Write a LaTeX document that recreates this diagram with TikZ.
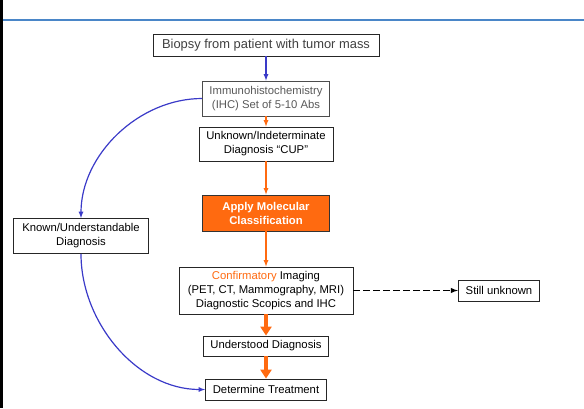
\documentclass[tikz,border=0pt]{standalone}
\usepackage{fontspec}
\setmainfont{Liberation Sans}
\usetikzlibrary{arrows.meta}

\definecolor{orangeM}{HTML}{FF6A10}
\definecolor{blauM}{HTML}{3A3AC8}
\definecolor{linieM}{HTML}{4A86C8}

\begin{document}
\begin{tikzpicture}[%
    x=1pt, y=-1pt,
    font=\fontsize{11.3}{14}\selectfont,
    >=latex % Voreinstellung für Pfeilspitzen
    ]
        \useasboundingbox (0,0) rectangle (584,408);

        \tikzset{
            Kasten/.style={draw=black!85, line width=0.8pt, fill=white, align=center, inner sep=0pt}, % für Kästen
            BPfeil/.style={blauM, line width=1.2pt, ->}, % blaue Pfeile
            OPfeil/.style={orangeM, line width=1.2pt, ->}, % dünne orange Pfeile
            DPfeil/.style={orangeM, line width=3.8pt, -{Triangle[width=11pt,length=9pt]}} % dicke Pfeile
        }

        % Rahmen
        \draw[line width=2.6pt] (1.3,0) -- (1.3,408);
        \draw[linieM, line width=1.4pt] (2.6,20) -- (584,20);

        % Kästen
        \node[Kasten, minimum width=226pt, minimum height=22pt, text=black!75,
              font=\fontsize{12.9}{14}\selectfont] (bio) at (266,45)
              {Biopsy from patient with tumor mass};
        \node[Kasten, minimum width=127pt, minimum height=35pt, text=black!65, draw=black!70] (ihc) at (266,98.5)
              {Immunohistochemistry\\(IHC) Set of 5-10 Abs};
        \node[Kasten, minimum width=134pt, minimum height=34pt] (cup) at (266,144)
              {Unknown/Indeterminate\\Diagnosis ``CUP''};
        \node[Kasten, minimum width=127pt, minimum height=36pt, fill=orangeM, draw=black!80,
              text=white, font=\fontsize{11.3}{14}\selectfont\bfseries] (mol) at (266,213)
              {Apply Molecular\\Classification};
        \node[Kasten, minimum width=135pt, minimum height=35pt] (known) at (81,236)
              {Known/Understandable\\Diagnosis};
        \node[Kasten, minimum width=174pt, minimum height=47pt] (conf) at (266,290.5)
              {\textcolor{orangeM}{Confirmatory} Imaging\\(PET, CT, Mammography, MRI)\\Diagnostic Scopics and IHC};
        \node[Kasten, minimum width=81.5pt, minimum height=21pt] (still) at (499,290.5)
              {Still unknown};
        \node[Kasten, minimum width=125pt, minimum height=20pt] (und) at (266,346)
              {Understood Diagnosis};
        \node[Kasten, minimum width=121pt, minimum height=21pt] (det) at (266,389.5)
              {Determine Treatment};

        % Pfeile
        \draw[BPfeil] (bio) -- (ihc);
        \draw[OPfeil] (ihc) -- (cup);
        \draw[OPfeil] (cup) -- (mol);
        \draw[OPfeil] (mol) -- (conf);
        \draw[DPfeil] (conf) -- (und);
        \draw[DPfeil] (und) -- (det);
        \draw[black, line width=1.4pt, dash pattern=on 6.5pt off 3.5pt, ->] (conf) -- (still);
        \draw[BPfeil] (ihc.west) to[out=180, in=90, looseness=0.95] (known.north);
        \draw[BPfeil] (known.south) to[out=-90, in=180, looseness=0.95] (det.west);
    \end{tikzpicture}
\end{document}
